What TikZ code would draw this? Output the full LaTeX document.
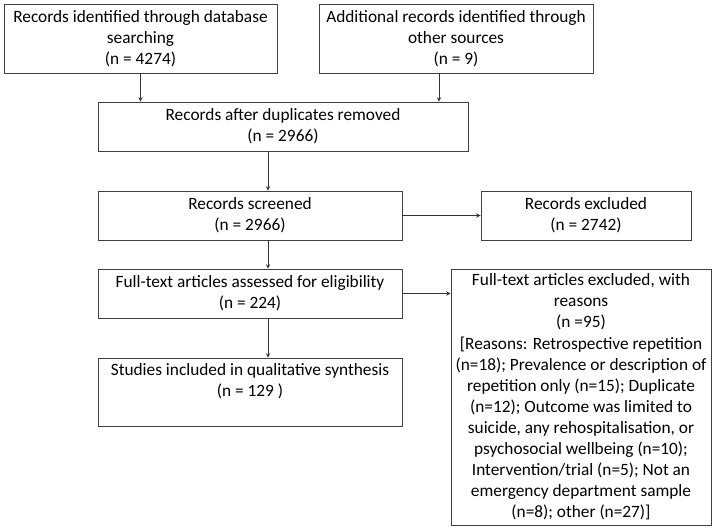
\documentclass[tikz,border=0pt]{standalone}
\usepackage{fontspec}
\setmainfont{Carlito}

\begin{document}
\begin{tikzpicture}[x=0.025cm,y=-0.025cm,>=stealth,
  box/.style={draw=black!75,line width=0.6pt,align=center,inner sep=0pt,font=\fontsize{12.3}{15}\selectfont}]
\useasboundingbox (0,0) rectangle (717,530);
\draw node[box,minimum width=6.825cm,minimum height=1.725cm] (id) at (140.5,38.5) {Records identified through database\\searching\\(n = 4274)};
\draw node[box,minimum width=6.85cm,minimum height=1.725cm] (add) at (456,38.5) {Additional records identified through\\other sources\\(n = 9)};
\draw node[box,minimum width=9.25cm,minimum height=1.225cm] (dup) at (283,126.5) {Records after duplicates removed\\(n = 2966)};
\draw node[box,minimum width=7.6cm,minimum height=1.225cm] (scr) at (250,215.5) {Records screened\\(n = 2966)};
\draw node[box,minimum width=5.25cm,minimum height=1.225cm] (exc) at (586,215.5) {Records excluded\\(n = 2742)};
\draw node[box,minimum width=7.6cm,minimum height=1.225cm] (full) at (250,293.5) {Full-text articles assessed for eligibility\\(n = 224)};
\draw node[box,minimum width=7.6cm,minimum height=1.7cm] (incl) at (250,392) {Studies included in qualitative synthesis\\(n = 129 )\\[2pt]\mbox{}};
\draw node[box,minimum width=6.5cm,minimum height=6.4cm] (fexc) at (581,397) {Full-text articles excluded, with\\reasons\\(n =95)\\{}[Reasons: Retrospective repetition\\(n=18); Prevalence or description of\\repetition only (n=15); Duplicate\\(n=12); Outcome was limited to\\suicide, any rehospitalisation, or\\psychosocial wellbeing (n=10);\\Intervention/trial (n=5); Not an\\emergency department sample\\(n=8); other (n=27)]};
\coordinate (c1) at (268,0);
\coordinate (c2) at (439,0);
\draw[->,black!80] (id.south) -- (id.south |- dup.north);
\draw[->,black!80] (add.south -| c2) -- (dup.north -| c2);
\draw[->,black!80] (dup.south -| c1) -- (scr.north -| c1);
\draw[->,black!80] (scr.east) -- (exc.west);
\draw[->,black!80] (scr.south -| c1) -- (full.north -| c1);
\draw[->,black!80] (full.east) -- (full.east -| fexc.west);
\draw[->,black!80] (full.south -| c1) -- (incl.north -| c1);
\end{tikzpicture}
\end{document}
